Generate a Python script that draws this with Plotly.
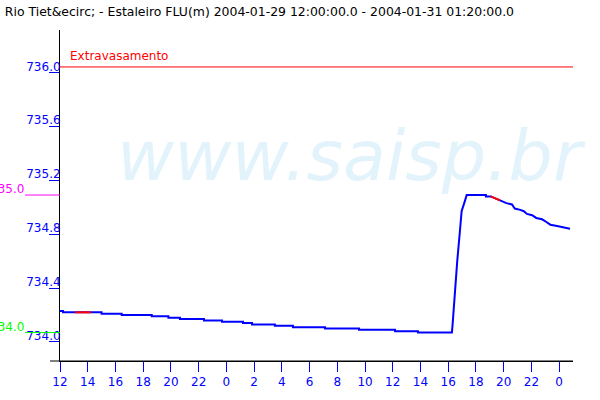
import plotly.graph_objects as go

# ---- data ----
times = [
    "2004-01-29 12:00", "2004-01-29 12:13", "2004-01-29 12:13", "2004-01-29 15:00",
    "2004-01-29 15:00", "2004-01-29 16:27", "2004-01-29 16:27", "2004-01-29 18:37",
    "2004-01-29 18:37", "2004-01-29 19:49", "2004-01-29 19:49", "2004-01-29 20:39",
    "2004-01-29 20:39", "2004-01-29 22:23", "2004-01-29 22:23", "2004-01-29 23:41",
    "2004-01-29 23:41", "2004-01-30 01:12", "2004-01-30 01:12", "2004-01-30 01:51",
    "2004-01-30 01:51", "2004-01-30 03:30", "2004-01-30 03:30", "2004-01-30 04:48",
    "2004-01-30 04:48", "2004-01-30 07:07", "2004-01-30 07:07", "2004-01-30 09:34",
    "2004-01-30 09:34", "2004-01-30 12:10", "2004-01-30 12:10", "2004-01-30 13:49",
    "2004-01-30 13:49", "2004-01-30 16:16",
    "2004-01-30 16:19", "2004-01-30 16:25", "2004-01-30 16:32", "2004-01-30 16:39",
    "2004-01-30 16:50", "2004-01-30 16:58", "2004-01-30 17:13", "2004-01-30 17:20",
    "2004-01-30 18:43", "2004-01-30 18:43", "2004-01-30 19:04", "2004-01-30 19:44",
    "2004-01-30 20:00", "2004-01-30 20:12", "2004-01-30 20:36", "2004-01-30 20:48",
    "2004-01-30 21:12", "2004-01-30 21:27", "2004-01-30 21:41", "2004-01-30 22:03",
    "2004-01-30 22:21", "2004-01-30 22:46", "2004-01-30 23:05", "2004-01-30 23:22",
    "2004-01-30 23:51", "2004-01-31 00:20", "2004-01-31 00:40", "2004-01-31 00:47",
]
levels = [
    734.23, 734.23, 734.22, 734.22,
    734.21, 734.21, 734.20, 734.20,
    734.19, 734.19, 734.18, 734.18,
    734.17, 734.17, 734.16, 734.16,
    734.15, 734.15, 734.14, 734.14,
    734.13, 734.13, 734.12, 734.12,
    734.11, 734.11, 734.10, 734.10,
    734.09, 734.09, 734.08, 734.08,
    734.07, 734.07,
    734.13, 734.29, 734.46, 734.60,
    734.81, 734.97, 735.05, 735.09,
    735.09, 735.08, 735.08, 735.05,
    735.04, 735.03, 735.02, 734.99,
    734.98, 734.97, 734.95, 734.94,
    734.92, 734.91, 734.89, 734.87,
    734.86, 734.85, 734.84, 734.84,
]
gap_times = ["2004-01-29 13:05", "2004-01-29 14:14", None, "2004-01-30 19:04", "2004-01-30 19:44"]
gap_levels = [734.22, 734.22, None, 735.08, 735.05]

ytick_vals = [734.0, 734.4, 734.8, 735.2, 735.6, 736.0]
ytick_text = ["734.0", "734.4", "734.8", "735.2", "735.6", "736.0"]

level_extravasamento = 736.04
level_alerta = 735.09
level_atencao = 734.07

title_text = "Rio Tiet&amp;ecirc; - Estaleiro FLU(m) 2004-01-29 12:00:00.0 - 2004-01-31 01:20:00.0"

FONT = "DejaVu Sans"
BLUE = "#0000ff"

fig = go.Figure()
fig.add_trace(go.Scatter(x=times, y=levels, mode="lines",
                         line=dict(color=BLUE, width=2), hoverinfo="skip", showlegend=False))
fig.add_trace(go.Scatter(x=gap_times, y=gap_levels, mode="lines",
                         line=dict(color="#ff0000", width=2), hoverinfo="skip", showlegend=False))

PW = 513.0
fig.update_layout(
    width=600, height=400,
    margin=dict(l=60, r=27, t=30, b=39),
    paper_bgcolor="white", plot_bgcolor="white",
    font=dict(family=FONT, size=12, color="black"),
    title=dict(text=title_text, x=0.008, xref="container", xanchor="left",
               y=1 - 11.5 / 400, yref="container", yanchor="middle",
               font=dict(family=FONT, size=12.45, color="black")),
    xaxis=dict(type="date", range=["2004-01-29 12:00", "2004-01-31 01:00"],
               tick0="2004-01-29 12:00", dtick=7200000, tickformat="%-H",
               ticks="outside", ticklen=10, tickcolor=BLUE, tickwidth=1,
               tickfont=dict(color=BLUE, size=12, family=FONT),
               showline=True, linecolor="black", linewidth=1,
               showgrid=False, zeroline=False, automargin=False),
    yaxis=dict(range=[733.859, 736.314], tickvals=ytick_vals, ticktext=ytick_text,
               ticks="outside", ticklen=10, tickcolor=BLUE, tickwidth=1,
               tickfont=dict(color=BLUE, size=12, family=FONT),
               ticklabelstandoff=-14, ticklabelshift=-6,
               showline=True, linecolor="black", linewidth=1,
               showgrid=False, zeroline=False, automargin=False),
)

fig.add_shape(type="line", xref="paper", yref="paper", x0=-10 / PW, x1=1, y0=0, y1=0,
              line=dict(color="black", width=1))
fig.add_shape(type="line", xref="paper", yref="y", x0=0, x1=1,
              y0=level_extravasamento, y1=level_extravasamento, line=dict(color="#ff0000", width=1))
fig.add_shape(type="line", xref="paper", yref="y", x0=-35 / PW, x1=0,
              y0=level_alerta, y1=level_alerta, line=dict(color="#ff00ff", width=1))
fig.add_shape(type="line", xref="paper", yref="y", x0=-35 / PW, x1=0,
              y0=level_atencao, y1=level_atencao, line=dict(color="#00ff00", width=1))

fig.add_annotation(text="www.saisp.br", xref="paper", yref="paper", x=291.5 / PW, y=(361 - 156) / 331.0,
                   xanchor="center", yanchor="middle", showarrow=False,
                   font=dict(family=FONT, size=70, color="#e3f3fc", style="italic"))
fig.add_annotation(text="Extravasamento", xref="paper", yref="y", x=8 / PW, y=level_extravasamento,
                   xanchor="left", yanchor="bottom", yshift=2, showarrow=False,
                   font=dict(family=FONT, size=12, color="#ff0000"))
fig.add_annotation(text="735.0", xref="paper", yref="y", x=-35 / PW, y=level_alerta,
                   xanchor="right", yanchor="bottom", yshift=-3, xshift=1, showarrow=False,
                   font=dict(family=FONT, size=12, color="#ff00ff"))
fig.add_annotation(text="734.0", xref="paper", yref="y", x=-35 / PW, y=level_atencao,
                   xanchor="right", yanchor="bottom", yshift=-3, xshift=1, showarrow=False,
                   font=dict(family=FONT, size=12, color="#00ff00"))

fig.write_html("out.html", config={"displayModeBar": False},
               post_script="document.body.style.margin='0';")
